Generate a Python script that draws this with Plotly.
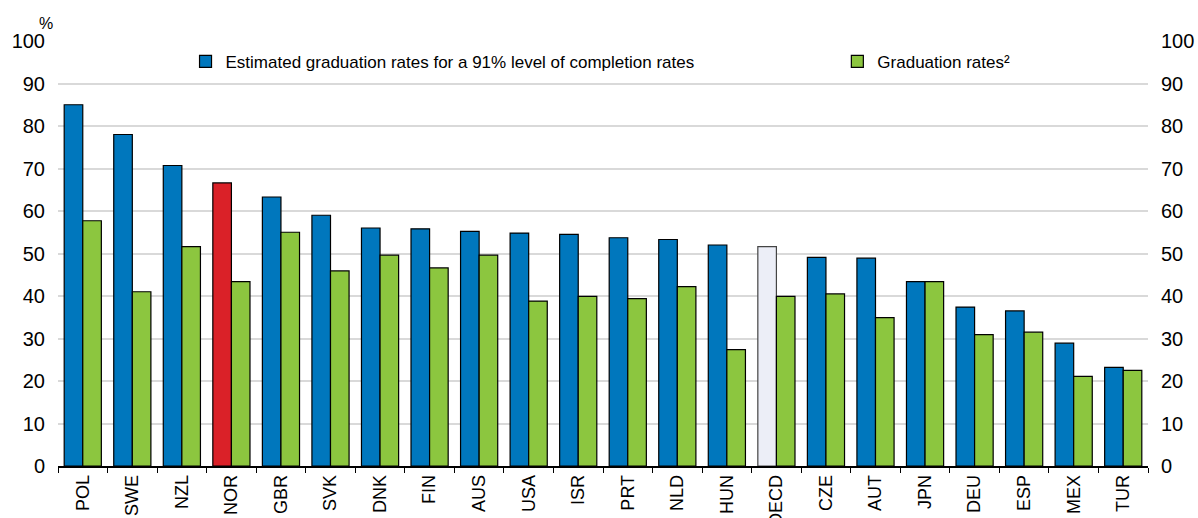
import plotly.graph_objects as go

# countries / groups along the x axis
countries = ["POL", "SWE", "NZL", "NOR", "GBR", "SVK", "DNK", "FIN", "AUS", "USA", "ISR",
             "PRT", "NLD", "HUN", "OECD", "CZE", "AUT", "JPN", "DEU", "ESP", "MEX", "TUR"]

# estimated graduation rates for a 91% completion level
estimated = [85.0, 78.0, 70.7, 66.6, 63.3, 59.0, 56.0, 55.8, 55.2, 54.8, 54.5,
             53.7, 53.3, 52.0, 51.6, 49.1, 48.9, 43.4, 37.4, 36.5, 28.9, 23.2]

# observed graduation rates
graduation = [57.7, 41.0, 51.6, 43.4, 55.0, 45.9, 49.6, 46.6, 49.6, 38.8, 39.9,
              39.4, 42.2, 27.4, 39.9, 40.5, 34.9, 43.4, 30.9, 31.5, 21.1, 22.5]

yticks = [0, 10, 20, 30, 40, 50, 60, 70, 80, 90, 100]

BLUE = "#0077bd"
GREEN = "#8cc63f"
RED = "#da2128"
OECD_FILL = "#eceef7"
FONT = "Liberation Sans Narrow, Arial Narrow, Liberation Sans, Arial, sans-serif"

# highlight Norway in red, OECD average in pale grey
est_colors = []
est_lines = []
for c in countries:
    if c == "NOR":
        est_colors.append(RED)
        est_lines.append("#000000")
    elif c == "OECD":
        est_colors.append(OECD_FILL)
        est_lines.append("#444444")
    else:
        est_colors.append(BLUE)
        est_lines.append("#000000")

fig = go.Figure()

fig.add_trace(go.Bar(
    x=countries, y=estimated,
    name="Estimated graduation rates for a 91% level of completion rates",
    marker=dict(color=est_colors, line=dict(color=est_lines, width=1.2)),
    legend="legend",
))
fig.add_trace(go.Bar(
    x=countries, y=graduation,
    name="Graduation rates²",
    marker=dict(color=GREEN, line=dict(color="#000000", width=1.2)),
    legend="legend2",
))

# empty trace so the right-hand axis gets drawn
fig.add_trace(go.Scatter(x=[], y=[], yaxis="y2", showlegend=False, hoverinfo="skip"))

fig.update_layout(
    width=1198, height=518,
    margin=dict(l=58, r=50, t=41, b=52),
    paper_bgcolor="white", plot_bgcolor="white",
    font=dict(family=FONT, size=20, color="#000000"),
    barmode="group", bargap=0.25, bargroupgap=0,
    showlegend=True,
    legend=dict(x=0.117, y=0.951, xanchor="left", yanchor="middle",
                bgcolor="rgba(0,0,0,0)", font=dict(size=17)),
    legend2=dict(x=0.715, y=0.951, xanchor="left", yanchor="middle",
                 bgcolor="rgba(0,0,0,0)", font=dict(size=17)),
    xaxis=dict(
        type="category", tickangle=-90, automargin=False,
        showline=True, linecolor="#000000", linewidth=1.5,
        ticks="outside", tickson="boundaries", ticklen=5, tickcolor="#000000",
        showgrid=False, tickfont=dict(size=18),
    ),
    yaxis=dict(
        range=[0, 100], tickvals=yticks, automargin=False,
        showgrid=True, gridcolor="#d9d9d9", gridwidth=1.5,
        zeroline=False, showline=False, ticks="",
        ticklabelstandoff=12, tickfont=dict(size=20),
    ),
    yaxis2=dict(
        range=[0, 100], tickvals=yticks, overlaying="y", side="right",
        automargin=False,
        showgrid=False, zeroline=False, showline=False, ticks="",
        ticklabelstandoff=12, tickfont=dict(size=20),
    ),
    annotations=[dict(
        text="%", xref="paper", yref="paper", x=-0.011, y=1.04,
        xanchor="center", yanchor="middle", showarrow=False,
        font=dict(size=16),
    )],
)

# drop the browser's default page margin so the figure sits at the top-left corner
fig.write_html("out.html", config={"displayModeBar": False},
               post_script="document.body.style.margin='0';")
